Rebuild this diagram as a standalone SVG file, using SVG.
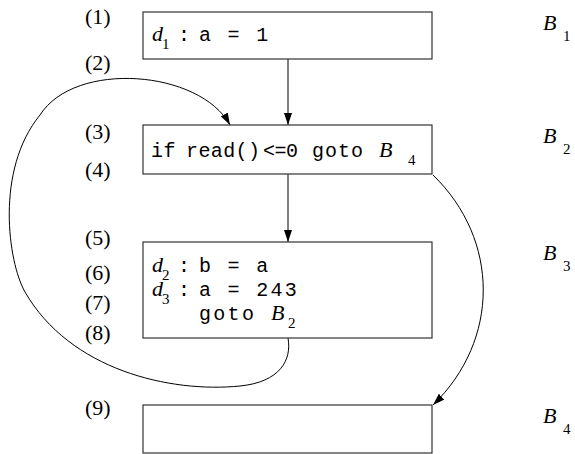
<svg xmlns="http://www.w3.org/2000/svg" width="575" height="454" viewBox="0 0 575 454">
  <style>
    .box { fill: #fff; stroke: #333; stroke-width: 1.2; }
    .mono { font-family: "Liberation Mono", "Courier New", monospace; font-size: 20px; letter-spacing: 1px; fill: #000; }
    .wide { letter-spacing: 2.3px; }
    .it { font-family: "Liberation Serif", "Times New Roman", serif; font-style: italic; font-size: 22px; fill: #000; }
    .sub { font-family: "Liberation Serif", "Times New Roman", serif; font-size: 15px; fill: #000; }
    .num { font-family: "Liberation Serif", "Times New Roman", serif; font-size: 22px; fill: #000; }
    .edge { fill: none; stroke: #000; stroke-width: 1; }
  </style>
  <defs>
    <marker id="arrow" viewBox="0 0 12 8" refX="12" refY="4" markerWidth="12" markerHeight="8" markerUnits="userSpaceOnUse" orient="auto">
      <path d="M0,0 L12,4 L0,8 z" fill="#000"/>
    </marker>
  </defs>

  <g id="line-numbers">
    <text class="num" x="85" y="24">(1)</text>
    <text class="num" x="85" y="70">(2)</text>
    <text class="num" x="85" y="139">(3)</text>
    <text class="num" x="85" y="177">(4)</text>
    <text class="num" x="85" y="245">(5)</text>
    <text class="num" x="85" y="280">(6)</text>
    <text class="num" x="85" y="310">(7)</text>
    <text class="num" x="85" y="340">(8)</text>
    <text class="num" x="85" y="415">(9)</text>
  </g>

  <g id="connectors">
    <path class="edge" d="M288,59 L288,125" marker-end="url(#arrow)"/>
    <path class="edge" d="M288,174 L288,242" marker-end="url(#arrow)"/>
    <path class="edge" d="M288,338 C292,360 280,382 240,386 C170,393 70,370 25,292 C8,262 -5,170 40,115 C75,60 200,70 230,125" marker-end="url(#arrow)"/>
    <path class="edge" d="M433,175 C500,240 500,340 433,405" marker-end="url(#arrow)"/>
  </g>

  <g id="B1">
    <rect class="box" x="143" y="12" width="289" height="47"/>
    <text class="it" x="152" y="41">d</text>
    <text class="sub" x="162" y="49">1</text>
    <text class="mono" x="178" y="41">:</text>
    <text class="mono wide" x="199" y="41" xml:space="preserve">a = 1</text>
    <text class="it" x="543" y="30">B</text>
    <text class="sub" x="563" y="41">1</text>
  </g>

  <g id="B2">
    <rect class="box" x="143" y="125" width="289" height="49"/>
    <text class="mono" x="151" y="157" style="letter-spacing:0.5px">if</text>
    <text class="mono" x="186" y="157" style="letter-spacing:0.4px">read()</text>
    <text class="mono" x="263" y="157" style="letter-spacing:-0.5px">&lt;=0</text>
    <text class="mono" x="312" y="157">goto</text>
    <text class="it" x="379" y="157">B</text>
    <text class="sub" x="408" y="165">4</text>
    <text class="it" x="543" y="143">B</text>
    <text class="sub" x="563" y="154">2</text>
  </g>

  <g id="B3">
    <rect class="box" x="143" y="242" width="289" height="96"/>
    <text class="it" x="152" y="272">d</text>
    <text class="sub" x="162" y="280">2</text>
    <text class="mono" x="178" y="272">:</text>
    <text class="mono wide" x="199" y="272" xml:space="preserve">b = a</text>
    <text class="it" x="152" y="296">d</text>
    <text class="sub" x="162" y="304">3</text>
    <text class="mono" x="178" y="296">:</text>
    <text class="mono wide" x="199" y="296" xml:space="preserve">a = 243</text>
    <text class="mono wide" x="199" y="320">goto</text>
    <text class="it" x="271" y="320">B</text>
    <text class="sub" x="288" y="328">2</text>
    <text class="it" x="543" y="260">B</text>
    <text class="sub" x="563" y="271">3</text>
  </g>

  <g id="B4">
    <rect class="box" x="143" y="405" width="289" height="48"/>
    <text class="it" x="543" y="423">B</text>
    <text class="sub" x="563" y="434">4</text>
  </g>
</svg>
